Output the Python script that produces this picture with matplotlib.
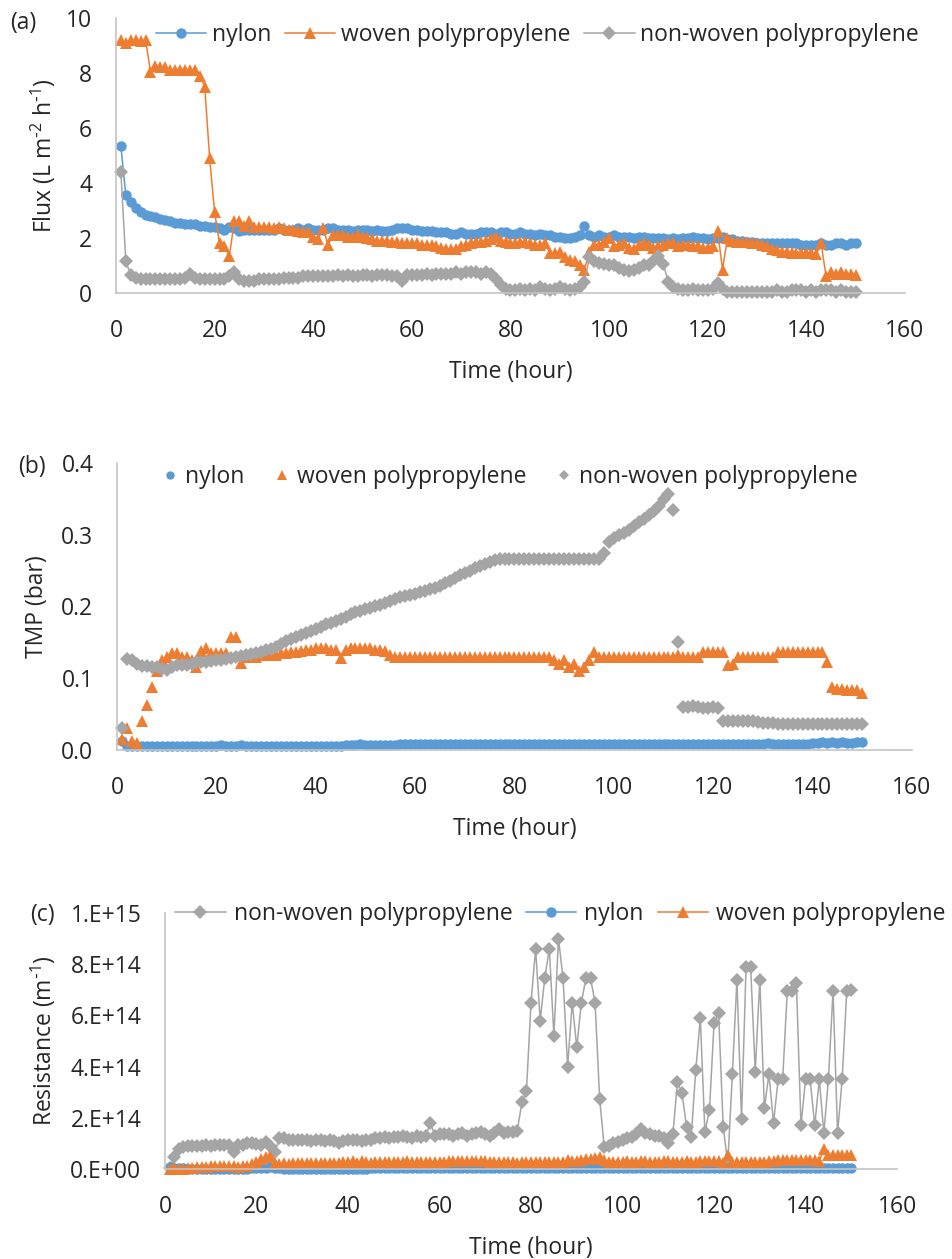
import numpy as np
import matplotlib
matplotlib.use("Agg")
import matplotlib.pyplot as plt

plt.rcParams['font.family'] = ['Open Sans', 'DejaVu Sans']
plt.rcParams['mathtext.default'] = 'regular'

BLUE = '#5B9BD5'
ORANGE = '#ED7D31'
GREY = '#A5A5A5'
TXT = '#262626'
AXC = '#C4C4C4'

hours = np.arange(1, 151)

# (a) flux, L m-2 h-1
flux_nylon = [
    5.35, 3.55, 3.3, 3.1, 2.95, 2.85, 2.8, 2.75, 2.7, 2.65,
    2.6, 2.55, 2.55, 2.5, 2.5, 2.5, 2.45, 2.45, 2.4, 2.4,
    2.35, 2.3, 2.4, 2.35, 2.25, 2.3, 2.3, 2.3, 2.3, 2.3,
    2.3, 2.3, 2.35, 2.3, 2.3, 2.3, 2.35, 2.3, 2.35, 2.3,
    2.3, 2.3, 2.35, 2.35, 2.3, 2.3, 2.3, 2.25, 2.3, 2.3,
    2.3, 2.25, 2.3, 2.25, 2.25, 2.3, 2.35, 2.35, 2.35, 2.3,
    2.3, 2.25, 2.25, 2.25, 2.2, 2.2, 2.2, 2.15, 2.15, 2.2,
    2.15, 2.15, 2.15, 2.2, 2.2, 2.2, 2.15, 2.2, 2.2, 2.15,
    2.15, 2.2, 2.15, 2.15, 2.1, 2.15, 2.1, 2.1, 2.05, 2.05,
    2.0, 2.0, 2.05, 2.1, 2.45, 2.1, 2.05, 2.1, 2.05, 2.05,
    2.1, 2.05, 2.05, 2.05, 2.0, 2.05, 2.05, 2.0, 2.0, 2.0,
    2.0, 1.95, 2.0, 1.95, 2.0, 2.0, 2.05, 2.0, 2.0, 1.95,
    2.0, 2.0, 2.05, 1.95, 1.95, 1.9, 1.9, 1.85, 1.85, 1.8,
    1.8, 1.8, 1.8, 1.8, 1.8, 1.8, 1.8, 1.8, 1.75, 1.75,
    1.75, 1.75, 1.8, 1.75, 1.75, 1.8, 1.8, 1.75, 1.8, 1.8,
]
flux_woven = [
    9.2, 9.1, 9.2, 9.2, 9.15, 9.2, 8.05, 8.25, 8.2, 8.2,
    8.1, 8.1, 8.1, 8.1, 8.1, 8.1, 7.9, 7.5, 4.9, 2.95,
    1.8, 1.7, 1.35, 2.6, 2.6, 2.45, 2.6, 2.4, 2.4, 2.4,
    2.4, 2.35, 2.4, 2.35, 2.3, 2.3, 2.25, 2.2, 2.2, 2.05,
    1.95, 2.35, 1.75, 2.1, 2.1, 2.1, 2.05, 2.05, 2.1, 2.05,
    2.0, 1.95, 1.9, 1.9, 1.9, 1.85, 1.85, 1.8, 1.8, 1.8,
    1.8, 1.75, 1.75, 1.75, 1.7, 1.65, 1.6, 1.6, 1.6, 1.7,
    1.75, 1.8, 1.85, 1.85, 1.9, 1.95, 2.05, 1.9, 1.85, 1.8,
    1.8, 1.85, 1.85, 1.8, 1.75, 1.75, 1.8, 1.45, 1.45, 1.5,
    1.3, 1.2, 1.15, 1.0, 0.85, 1.5, 1.75, 1.75, 1.85, 2.0,
    1.7, 1.75, 1.8, 1.65, 1.6, 1.75, 1.8, 1.75, 1.65, 1.7,
    1.75, 1.8, 1.8, 1.7, 1.75, 1.75, 1.7, 1.7, 1.65, 1.65,
    1.7, 2.25, 0.85, 2.0, 1.9, 1.85, 1.85, 1.85, 1.8, 1.8,
    1.75, 1.7, 1.6, 1.55, 1.5, 1.5, 1.45, 1.45, 1.45, 1.45,
    1.45, 1.4, 1.8, 0.6, 0.75, 0.7, 0.75, 0.7, 0.7, 0.65,
]
flux_nonwoven = [
    4.4, 1.15, 0.65, 0.55, 0.5, 0.5, 0.5, 0.5, 0.5, 0.5,
    0.5, 0.5, 0.5, 0.55, 0.7, 0.55, 0.5, 0.5, 0.5, 0.5,
    0.5, 0.5, 0.6, 0.75, 0.5, 0.45, 0.45, 0.45, 0.5, 0.5,
    0.5, 0.5, 0.5, 0.55, 0.55, 0.55, 0.55, 0.6, 0.6, 0.6,
    0.6, 0.6, 0.6, 0.6, 0.65, 0.6, 0.65, 0.6, 0.6, 0.65,
    0.65, 0.6, 0.65, 0.65, 0.65, 0.6, 0.6, 0.45, 0.65, 0.65,
    0.65, 0.65, 0.7, 0.65, 0.7, 0.7, 0.7, 0.7, 0.75, 0.7,
    0.75, 0.75, 0.75, 0.7, 0.75, 0.7, 0.5, 0.3, 0.15, 0.1,
    0.1, 0.15, 0.1, 0.15, 0.1, 0.2, 0.15, 0.1, 0.15, 0.2,
    0.15, 0.1, 0.15, 0.2, 0.4, 1.3, 1.15, 1.1, 1.05, 1.0,
    1.0, 0.9, 0.85, 0.8, 0.85, 0.9, 1.0, 1.0, 1.15, 1.35,
    1.05, 0.4, 0.2, 0.15, 0.1, 0.1, 0.15, 0.1, 0.1, 0.1,
    0.15, 0.35, 0.15, 0.05, 0.05, 0.05, 0.05, 0.05, 0.05, 0.05,
    0.05, 0.05, 0.05, 0.1, 0.05, 0.05, 0.1, 0.1, 0.1, 0.05,
    0.1, 0.05, 0.1, 0.1, 0.1, 0.05, 0.1, 0.05, 0.05, 0.02,
]

# (b) transmembrane pressure, bar
tmp_nylon = [
    0.012, 0.006, 0.005, 0.005, 0.005, 0.005, 0.005, 0.005, 0.005, 0.005,
    0.005, 0.005, 0.005, 0.005, 0.005, 0.005, 0.005, 0.005, 0.006, 0.006,
    0.007, 0.005, 0.005, 0.006, 0.007, 0.005, 0.005, 0.005, 0.005, 0.005,
    0.005, 0.005, 0.005, 0.005, 0.005, 0.005, 0.005, 0.005, 0.005, 0.005,
    0.005, 0.005, 0.005, 0.005, 0.006, 0.007, 0.007, 0.007, 0.008, 0.007,
    0.007, 0.007, 0.007, 0.007, 0.007, 0.007, 0.008, 0.009, 0.009, 0.009,
    0.009, 0.009, 0.009, 0.009, 0.009, 0.009, 0.009, 0.009, 0.009, 0.009,
    0.009, 0.009, 0.009, 0.009, 0.009, 0.009, 0.009, 0.009, 0.009, 0.009,
    0.009, 0.009, 0.009, 0.009, 0.009, 0.009, 0.009, 0.009, 0.009, 0.009,
    0.009, 0.009, 0.009, 0.009, 0.009, 0.009, 0.009, 0.009, 0.009, 0.009,
    0.009, 0.009, 0.009, 0.009, 0.009, 0.009, 0.009, 0.009, 0.009, 0.009,
    0.009, 0.009, 0.009, 0.009, 0.009, 0.009, 0.009, 0.009, 0.009, 0.009,
    0.009, 0.009, 0.009, 0.009, 0.009, 0.009, 0.009, 0.009, 0.009, 0.009,
    0.01, 0.009, 0.009, 0.009, 0.009, 0.009, 0.009, 0.009, 0.009, 0.01,
    0.01, 0.011, 0.01, 0.011, 0.01, 0.011, 0.01, 0.01, 0.011, 0.011,
]
tmp_woven = [
    0.015, 0.03, 0.012, 0.01, 0.04, 0.063, 0.088, 0.11, 0.125, 0.13,
    0.135, 0.135, 0.13, 0.13, 0.125, 0.116, 0.138, 0.142, 0.135, 0.135,
    0.135, 0.135, 0.158, 0.158, 0.121, 0.13, 0.13, 0.13, 0.132, 0.132,
    0.133, 0.133, 0.135, 0.135, 0.137, 0.137, 0.138, 0.14, 0.14, 0.142,
    0.142, 0.142, 0.14, 0.14, 0.128, 0.14, 0.142, 0.142, 0.142, 0.142,
    0.142, 0.14, 0.14, 0.138, 0.132, 0.13, 0.13, 0.13, 0.13, 0.13,
    0.13, 0.13, 0.13, 0.13, 0.13, 0.13, 0.13, 0.13, 0.13, 0.13,
    0.13, 0.13, 0.13, 0.13, 0.13, 0.13, 0.13, 0.13, 0.13, 0.13,
    0.13, 0.13, 0.13, 0.13, 0.13, 0.13, 0.13, 0.125, 0.12, 0.125,
    0.115, 0.12, 0.11, 0.115, 0.125, 0.137, 0.13, 0.13, 0.13, 0.13,
    0.13, 0.13, 0.13, 0.13, 0.13, 0.13, 0.13, 0.13, 0.13, 0.13,
    0.13, 0.13, 0.133, 0.13, 0.13, 0.13, 0.13, 0.137, 0.137, 0.137,
    0.137, 0.137, 0.119, 0.12, 0.13, 0.13, 0.13, 0.13, 0.13, 0.13,
    0.13, 0.13, 0.137, 0.137, 0.137, 0.137, 0.137, 0.137, 0.137, 0.137,
    0.137, 0.137, 0.123, 0.088, 0.085, 0.085, 0.083, 0.083, 0.083, 0.08,
]
tmp_nonwoven = [
    0.03, 0.127, 0.125, 0.12, 0.117, 0.117, 0.116, 0.115, 0.113, 0.112,
    0.115, 0.118, 0.118, 0.118, 0.12, 0.122, 0.123, 0.123, 0.124, 0.125,
    0.126, 0.127, 0.128, 0.13, 0.131, 0.133, 0.134, 0.135, 0.137, 0.139,
    0.141, 0.144, 0.148, 0.152, 0.155, 0.158, 0.16, 0.163, 0.166, 0.169,
    0.172, 0.175, 0.177, 0.18, 0.183, 0.186, 0.189, 0.192, 0.194, 0.196,
    0.198, 0.2, 0.202, 0.205, 0.208, 0.211, 0.213, 0.214, 0.216, 0.218,
    0.22, 0.222, 0.224, 0.226, 0.229, 0.232, 0.236, 0.24, 0.244, 0.247,
    0.25, 0.253, 0.256, 0.259, 0.262, 0.265, 0.266, 0.266, 0.266, 0.266,
    0.266, 0.266, 0.266, 0.266, 0.266, 0.266, 0.266, 0.266, 0.266, 0.266,
    0.266, 0.266, 0.266, 0.266, 0.266, 0.266, 0.266, 0.275, 0.29, 0.295,
    0.3, 0.303, 0.307, 0.312, 0.318, 0.322, 0.327, 0.333, 0.34, 0.35,
    0.357, 0.335, 0.15, 0.06, 0.06, 0.061, 0.06, 0.059, 0.058, 0.06,
    0.058, 0.04, 0.04, 0.041, 0.041, 0.041, 0.04, 0.04, 0.039, 0.038,
    0.037, 0.037, 0.036, 0.036, 0.036, 0.036, 0.036, 0.036, 0.036, 0.036,
    0.036, 0.036, 0.036, 0.036, 0.036, 0.036, 0.036, 0.036, 0.036, 0.036,
]

# (c) filtration resistance, in units of 1e14 m-1
res_nonwoven = [
    0.03, 0.45, 0.8, 0.85, 0.88, 0.9, 0.9, 0.9, 0.92, 0.9,
    0.92, 0.92, 0.95, 0.95, 0.65, 0.95, 0.95, 1.0, 1.0, 0.98,
    0.95, 1.05, 0.9, 0.65, 1.2, 1.2, 1.15, 1.15, 1.15, 1.15,
    1.15, 1.1, 1.15, 1.15, 1.1, 1.15, 1.1, 1.0, 1.1, 1.15,
    1.15, 1.15, 1.1, 1.15, 1.15, 1.2, 1.2, 1.25, 1.2, 1.25,
    1.25, 1.3, 1.25, 1.2, 1.3, 1.25, 1.3, 1.8, 1.3, 1.35,
    1.35, 1.35, 1.3, 1.35, 1.4, 1.3, 1.35, 1.4, 1.45, 1.35,
    1.3, 1.4, 1.55, 1.4, 1.45, 1.45, 1.5, 2.6, 3.05, 6.5,
    8.6, 5.8, 7.45, 8.6, 5.2, 9.0, 7.45, 4.0, 6.5, 4.75,
    6.5, 7.45, 7.45, 6.5, 2.75, 0.85, 0.9, 1.0, 1.05, 1.15,
    1.2, 1.25, 1.35, 1.55, 1.4, 1.35, 1.3, 1.3, 1.2, 1.0,
    1.35, 3.4, 2.95, 1.65, 1.25, 3.85, 5.9, 1.45, 2.3, 5.7,
    6.1, 1.65, 0.2, 3.7, 7.4, 1.95, 7.9, 7.9, 3.8, 7.4,
    2.4, 3.7, 1.8, 3.5, 3.5, 6.95, 6.95, 7.25, 1.7, 3.5,
    3.5, 1.7, 3.5, 1.4, 3.5, 6.95, 1.4, 3.5, 6.95, 7.0,
]
res_nylon = [
    0.06, 0.03, 0.02, 0.02, 0.01, 0.01, 0.01, 0.01, 0.01, 0.01,
    0.01, 0.01, 0.01, 0.01, 0.01, 0.01, 0.01, 0.01, 0.02, 0.02,
    0.03, 0.05, 0.06, 0.03, 0.02, 0.01, 0.01, 0.01, 0.01, 0.01,
    0.01, 0.01, 0.01, 0.01, 0.01, 0.01, 0.01, 0.01, 0.01, 0.01,
    0.01, 0.01, 0.01, 0.01, 0.02, 0.02, 0.02, 0.02, 0.02, 0.02,
    0.02, 0.02, 0.02, 0.02, 0.02, 0.02, 0.02, 0.02, 0.02, 0.02,
    0.02, 0.02, 0.02, 0.02, 0.02, 0.02, 0.02, 0.02, 0.02, 0.02,
    0.02, 0.02, 0.02, 0.02, 0.02, 0.02, 0.02, 0.02, 0.02, 0.02,
    0.02, 0.02, 0.02, 0.02, 0.02, 0.02, 0.02, 0.02, 0.02, 0.02,
    0.02, 0.02, 0.02, 0.02, 0.03, 0.02, 0.02, 0.02, 0.02, 0.02,
    0.02, 0.02, 0.02, 0.02, 0.02, 0.02, 0.02, 0.02, 0.02, 0.02,
    0.02, 0.02, 0.02, 0.02, 0.02, 0.02, 0.02, 0.02, 0.02, 0.02,
    0.02, 0.02, 0.02, 0.02, 0.02, 0.02, 0.02, 0.02, 0.02, 0.03,
    0.03, 0.03, 0.03, 0.03, 0.03, 0.03, 0.03, 0.03, 0.03, 0.03,
    0.03, 0.04, 0.03, 0.04, 0.04, 0.04, 0.04, 0.04, 0.04, 0.04,
]
res_woven = [
    0.01, 0.02, 0.01, 0.01, 0.02, 0.04, 0.06, 0.08, 0.09, 0.1,
    0.1, 0.1, 0.1, 0.1, 0.1, 0.09, 0.11, 0.12, 0.18, 0.28,
    0.38, 0.45, 0.52, 0.25, 0.2, 0.22, 0.2, 0.22, 0.22, 0.22,
    0.22, 0.23, 0.22, 0.23, 0.24, 0.24, 0.25, 0.25, 0.26, 0.28,
    0.3, 0.25, 0.32, 0.27, 0.24, 0.27, 0.28, 0.27, 0.27, 0.28,
    0.28, 0.29, 0.3, 0.29, 0.28, 0.28, 0.28, 0.29, 0.29, 0.29,
    0.29, 0.3, 0.3, 0.3, 0.3, 0.31, 0.32, 0.32, 0.32, 0.3,
    0.29, 0.28, 0.28, 0.28, 0.27, 0.27, 0.25, 0.27, 0.28, 0.28,
    0.28, 0.28, 0.28, 0.28, 0.29, 0.29, 0.28, 0.34, 0.33, 0.33,
    0.35, 0.39, 0.38, 0.42, 0.46, 0.36, 0.29, 0.29, 0.28, 0.26,
    0.3, 0.29, 0.28, 0.31, 0.32, 0.29, 0.28, 0.29, 0.31, 0.3,
    0.29, 0.28, 0.29, 0.3, 0.29, 0.29, 0.3, 0.31, 0.32, 0.32,
    0.31, 0.24, 0.55, 0.26, 0.27, 0.28, 0.28, 0.28, 0.29, 0.29,
    0.29, 0.3, 0.33, 0.34, 0.35, 0.35, 0.36, 0.36, 0.36, 0.36,
    0.36, 0.37, 0.3, 0.8, 0.55, 0.55, 0.54, 0.55, 0.55, 0.56,
]
RES_UNIT = 1e14

x_ticks = list(range(0, 161, 20))
FS = 16.5

# marker look shared by all panels
MK = {
    'nylon': dict(color=BLUE, marker='o', markersize=7.5),
    'woven': dict(color=ORANGE, marker='^', markersize=8.5),
    'nonwoven': dict(color=GREY, marker='D', markersize=6.8),
}

fig = plt.figure(figsize=(9.52, 12.59), dpi=100)


def style_axes(ax):
    for side in ['top', 'right']:
        ax.spines[side].set_visible(False)
    for side in ['left', 'bottom']:
        ax.spines[side].set_color(AXC)
        ax.spines[side].set_linewidth(1.2)
    ax.tick_params(length=0, labelsize=FS, colors=TXT)
    ax.tick_params(axis='y', pad=17)
    ax.tick_params(axis='x', pad=19)
    ax.set_xlim(0, 160)
    ax.set_xticks(x_ticks)
    ax.set_xlabel('Time (hour)', fontsize=FS, color=TXT, labelpad=12)


def draw(ax, values, key, label, lines=True):
    ax.plot(hours, values, label=label, linestyle='-' if lines else 'none',
            linewidth=1.1, markeredgewidth=0, clip_on=False, **MK[key])


# ---- (a) flux
ax = fig.add_axes([0.1218, 0.7673, 0.8288, 0.2184])
style_axes(ax)
draw(ax, flux_nylon, 'nylon', 'nylon')
draw(ax, flux_woven, 'woven', 'woven polypropylene')
draw(ax, flux_nonwoven, 'nonwoven', 'non-woven polypropylene')
ax.set_ylim(0, 10)
ax.set_yticks(range(0, 11, 2))
ax.set_ylabel(r'Flux (L m$^{\text{-}2}$ h$^{\text{-}1}$)', fontsize=FS, color=TXT, labelpad=6)
ax.legend(loc='center', bbox_to_anchor=(0.534, 0.938), ncol=3, frameon=False,
          fontsize=FS, handlelength=2.2, columnspacing=0.6, handletextpad=0.25,
          labelcolor=TXT)
fig.text(0.024, 0.9817, '(a)', fontsize=FS, color=TXT, va='center', ha='center')

# ---- (b) TMP, markers only
ax = fig.add_axes([0.1229, 0.4043, 0.835, 0.228])
style_axes(ax)
draw(ax, tmp_nylon, 'nylon', 'nylon', lines=False)
draw(ax, tmp_woven, 'woven', 'woven polypropylene', lines=False)
draw(ax, tmp_nonwoven, 'nonwoven', 'non-woven polypropylene', lines=False)
ax.set_ylim(0, 0.4)
ax.set_yticks([0, 0.1, 0.2, 0.3, 0.4])
ax.set_yticklabels(['0.0', '0.1', '0.2', '0.3', '0.4'])
ax.set_ylabel('TMP (bar)', fontsize=FS, color=TXT, labelpad=9)
ax.legend(loc='center', bbox_to_anchor=(0.492, 0.951), ncol=3, frameon=False,
          fontsize=FS, handlelength=1.0, columnspacing=1.15, handletextpad=0.15,
          markerscale=0.8, labelcolor=TXT)
fig.text(0.0336, 0.629, '(b)', fontsize=FS, color=TXT, va='center', ha='center')

# ---- (c) resistance
ax = fig.add_axes([0.1733, 0.0715, 0.769, 0.2033])
style_axes(ax)
draw(ax, np.array(res_nonwoven) * RES_UNIT, 'nonwoven', 'non-woven polypropylene')
draw(ax, np.array(res_nylon) * RES_UNIT, 'nylon', 'nylon')
draw(ax, np.array(res_woven) * RES_UNIT, 'woven', 'woven polypropylene')
ax.set_ylim(0, 1e15)
ax.set_yticks([0, 2e14, 4e14, 6e14, 8e14, 1e15])
ax.set_yticklabels(['0.E+00', '2.E+14', '4.E+14', '6.E+14', '8.E+14', '1.E+15'])
ax.set_ylabel(r'Resistance (m$^{\text{-}1}$)', fontsize=FS, color=TXT, labelpad=9)
ax.legend(loc='center', bbox_to_anchor=(0.54, 0.996), ncol=3, frameon=False,
          fontsize=FS, handlelength=2.2, columnspacing=0.6, handletextpad=0.35,
          labelcolor=TXT)
fig.text(0.0441, 0.2732, '(c)', fontsize=FS, color=TXT, va='center', ha='center')

fig.savefig('out.png', dpi=100)
